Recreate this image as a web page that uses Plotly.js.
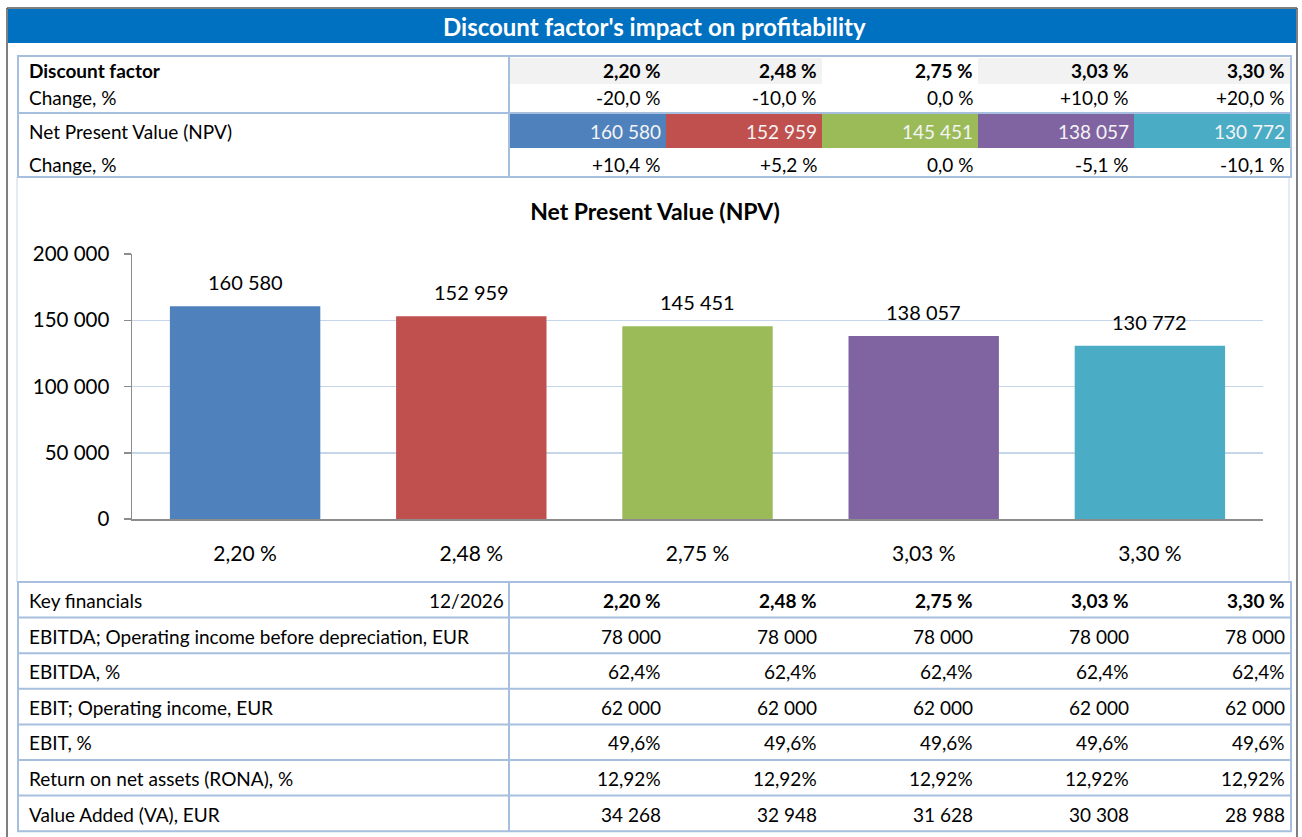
<!DOCTYPE html>
<html>
<head>
<meta charset="utf-8">
<script src="https://cdn.plot.ly/plotly-3.0.1.min.js"></script>
<style>html,body{margin:0;padding:0;background:#fff;}#chart{width:1302px;height:837px;}</style>
</head>
<body>
<div id="chart"></div>
<script>
// ---------- DATA ----------
const mainTitle = "Discount factor's impact on profitability";
const chartTitle = "Net Present Value (NPV)";
const factors = ['2,20 %', '2,48 %', '2,75 %', '3,03 %', '3,30 %'];
const factorChange = ['-20,0 %', '-10,0 %', '0,0 %', '+10,0 %', '+20,0 %'];
const npv = [160580, 152959, 145451, 138057, 130772];
const npvChange = ['+10,4 %', '+5,2 %', '0,0 %', '-5,1 %', '-10,1 %'];
const barColors = ['#4F81BD', '#C0504D', '#9BBB59', '#8064A2', '#4BACC6'];
const yTicks = [0, 50000, 100000, 150000, 200000];

const topLabels = ['Discount factor', 'Change, %', 'Net Present Value (NPV)', 'Change, %'];
const keyHeader = 'Key financials';
const keyPeriod = '12/2026';
const keyLabels = [
  'EBITDA; Operating income before depreciation, EUR',
  'EBITDA, %',
  'EBIT; Operating income, EUR',
  'EBIT, %',
  'Return on net assets (RONA), %',
  'Value Added (VA), EUR'
];
const ebitda = [78000, 78000, 78000, 78000, 78000];
const ebitdaPct = ['62,4%', '62,4%', '62,4%', '62,4%', '62,4%'];
const ebit = [62000, 62000, 62000, 62000, 62000];
const ebitPct = ['49,6%', '49,6%', '49,6%', '49,6%', '49,6%'];
const rona = ['12,92%', '12,92%', '12,92%', '12,92%', '12,92%'];
const valueAdded = [34268, 32948, 31628, 30308, 28988];

// ---------- HELPERS ----------
const W = 1302, H = 837;
const X = x => x / W, Y = y => 1 - y / H;
const fmt = n => String(n).replace(/\B(?=(\d{3})+(?!\d))/g, ' ');
const FONT = 'Lato, "Open Sans", sans-serif';
const TS = 19; // table font size
const shapes = [], annotations = [];
function rect(x0, y0, x1, y1, fill, lc, lw, layer) {
  shapes.push({type: 'rect', xref: 'paper', yref: 'paper', x0: X(x0), x1: X(x1), y0: Y(y1), y1: Y(y0),
    fillcolor: fill || 'rgba(0,0,0,0)', line: {color: lc || 'rgba(0,0,0,0)', width: lw || 0}, layer: layer || 'below'});
}
function seg(x0, y0, x1, y1, c, w) {
  shapes.push({type: 'line', xref: 'paper', yref: 'paper', x0: X(x0), x1: X(x1), y0: Y(y0), y1: Y(y1),
    line: {color: c, width: w}, layer: 'above'});
}
function txt(s, x, y, anchor, size, color, bold) {
  annotations.push({text: bold ? '<b>' + s + '</b>' : s, xref: 'paper', yref: 'paper', x: X(x), y: Y(y),
    xanchor: anchor, yanchor: 'middle', showarrow: false, borderpad: 0,
    font: {family: FONT, size: size, color: color || '#000'}});
}

// ---------- FRAME & HEADER ----------
const BORDER = '#A7BFDE';
rect(8, 9, 1296, 43, '#0070C0');
txt(mainTitle, 655, 27, 'center', 24, '#FFFFFF', true);
seg(7, 8, 1297, 8, '#555', 1.5);
seg(7, 8, 7, 837, '#555', 1.5);
seg(1297, 8, 1297, 837, '#555', 1.5);
seg(17, 177, 17, 582, '#C9D7E8', 1);
seg(1289, 177, 1289, 582, '#C9D7E8', 1);

// ---------- TOP TABLE ----------
const colL = 510, colW = 156;
const colRight = i => colL + colW * (i + 1);
factors.forEach((f, i) => { if (i !== 2) rect(colL + colW * i, 58, colRight(i), 84, '#F2F2F2'); });
npv.forEach((v, i) => rect(colL + colW * i, 114, colRight(i), 148, barColors[i]));
rect(18, 56, 1291, 177, null, BORDER, 2, 'above');
seg(509, 56, 509, 177, BORDER, 2);
seg(18, 113, 1291, 113, BORDER, 2);
const topY = [70, 98, 131, 164];
topLabels.forEach((l, r) => txt(l, 28, topY[r], 'left', TS, '#000', r === 0));
factors.forEach((f, i) => {
  const xr = colRight(i) - 4;
  txt(f, xr, topY[0], 'right', TS, '#000', true);
  txt(factorChange[i], xr, topY[1], 'right', TS, '#000');
  txt(fmt(npv[i]), xr, topY[2], 'right', TS, '#F4F4F4');
  txt(npvChange[i], xr, topY[3], 'right', TS, '#000');
});

// ---------- BOTTOM TABLE ----------
const bTop = 582, rowH = 35.6;
const bottomRows = [
  factors,
  ebitda.map(fmt), ebitdaPct, ebit.map(fmt), ebitPct, rona, valueAdded.map(fmt)
];
const bLabels = [keyHeader].concat(keyLabels);
rect(18, bTop, 1291, bTop + rowH * 7, null, BORDER, 2, 'above');
seg(509, bTop, 509, bTop + rowH * 7, BORDER, 2);
for (let r = 1; r < 7; r++) seg(18, bTop + rowH * r, 1291, bTop + rowH * r, BORDER, 2);
bLabels.forEach((l, r) => {
  const yc = bTop + rowH * r + 18.5;
  txt(l, 28, yc, 'left', TS, '#000');
  bottomRows[r].forEach((v, i) => txt(v, colRight(i) - 4, yc, 'right', TS, '#000', r === 0));
});
txt(keyPeriod, 505, bTop + 18.5, 'right', TS, '#000');

// ---------- BAR CHART ----------
npv.forEach((v, i) => annotations.push({
  text: fmt(v), xref: 'x', yref: 'y', x: factors[i], y: v, xanchor: 'center', yanchor: 'bottom',
  yshift: 10, showarrow: false, font: {family: FONT, size: 20, color: '#000'}
}));

const trace = {
  type: 'bar', x: factors, y: npv, width: 0.665,
  marker: {color: barColors, line: {width: 0}},
  hoverinfo: 'x+y'
};

const layout = {
  width: W, height: H,
  margin: {l: 0, r: 0, t: 0, b: 0, pad: 0},
  paper_bgcolor: '#FFFFFF', plot_bgcolor: 'rgba(0,0,0,0)',
  separators: ', ',
  showlegend: false,
  font: {family: FONT, size: 20, color: '#000'},
  title: {text: '<b>' + chartTitle + '</b>', x: X(655), xanchor: 'center', y: Y(212), yanchor: 'middle',
    font: {family: FONT, size: 23, color: '#000'}},
  xaxis: {
    domain: [X(132), X(1263)], type: 'category',
    showline: true, linecolor: '#8C8C8C', linewidth: 1.5,
    ticks: '', showgrid: false, zeroline: false,
    tickfont: {family: FONT, size: 21, color: '#000'},
    ticklabelstandoff: 15, fixedrange: true
  },
  yaxis: {
    domain: [Y(519), Y(254)], range: [0, 200000],
    tickvals: yTicks, ticktext: yTicks.map(fmt),
    showline: true, linecolor: '#8C8C8C', linewidth: 1.5,
    ticks: 'outside', ticklen: 7, tickcolor: '#8C8C8C', tickwidth: 1.5,
    showgrid: true, gridcolor: '#C5D6EA', gridwidth: 1.5, zeroline: false,
    tickfont: {family: FONT, size: 20.5, color: '#000'},
    ticklabelstandoff: 10, fixedrange: true
  },
  shapes: shapes,
  annotations: annotations
};

Plotly.newPlot('chart', [trace], layout, {displayModeBar: false, staticPlot: true});
</script>
</body>
</html>
